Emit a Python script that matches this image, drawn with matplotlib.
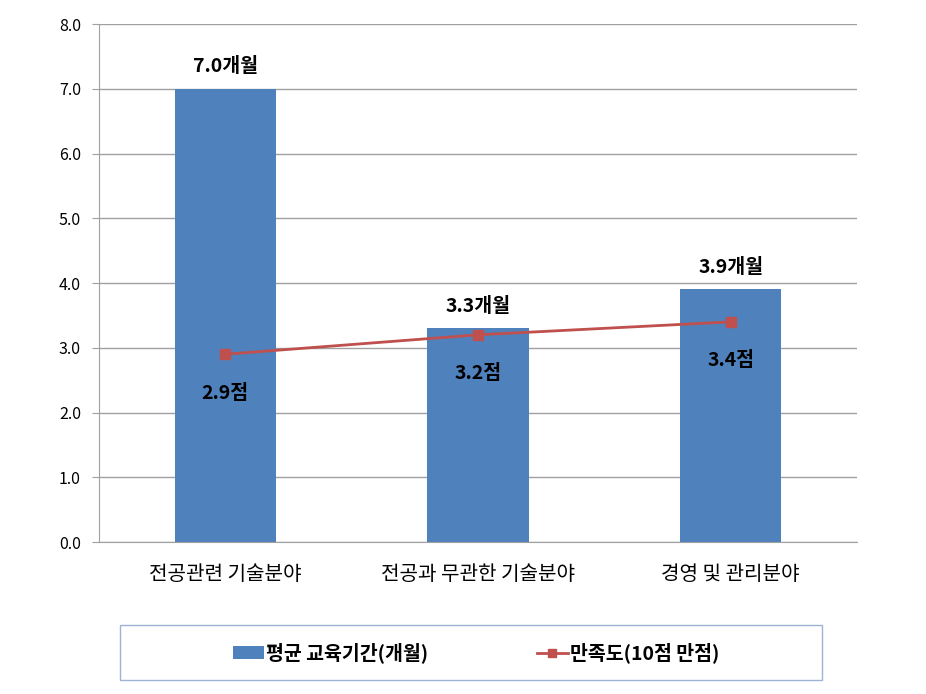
import matplotlib
matplotlib.use("Agg")
import matplotlib.pyplot as plt
from matplotlib.lines import Line2D
from matplotlib.patches import Patch, Rectangle

plt.rcParams['font.family'] = ['Noto Sans CJK KR', 'DejaVu Sans']

categories = ["전공관련 기술분야", "전공과 무관한 기술분야", "경영 및 관리분야"]
months = [7.0, 3.3, 3.9]
satisfaction = [2.9, 3.2, 3.4]
yticks = [0.0, 1.0, 2.0, 3.0, 4.0, 5.0, 6.0, 7.0, 8.0]

fig = plt.figure(figsize=(9.26, 6.94), dpi=100)
ax = fig.add_axes([0.1069, 0.219, 0.8186, 0.7464])

x = list(range(len(categories)))
ax.bar(x, months, width=0.4, color='#4F81BD', zorder=2)
ax.plot(x, satisfaction, color='#C0504D', linewidth=2, marker='s', markersize=7, zorder=3)

for xi, v in zip(x, months):
    ax.annotate(f"{v:.1f}개월", (xi, v), xytext=(0, 9), textcoords='offset points',
                ha='center', va='bottom', fontsize=14, fontweight='bold')
for xi, v in zip(x, satisfaction):
    ax.annotate(f"{v:.1f}점", (xi, v), xytext=(0, -28), textcoords='offset points',
                ha='center', va='center', fontsize=14, fontweight='bold')

ax.set_xlim(-0.5, 2.5)
ax.set_ylim(0, 8)
ax.set_yticks(yticks)
ax.set_yticklabels([f"{t:.1f}" for t in yticks], fontsize=11.5)
ax.set_xticks(x)
ax.set_xticklabels(categories, fontsize=14.5)
ax.tick_params(axis='x', length=0, pad=16)
ax.tick_params(axis='y', length=5, color='#A0A0A0', pad=8)
ax.grid(axis='y', color='#A0A0A0', linewidth=1, zorder=0)
for s in ['top', 'right']:
    ax.spines[s].set_visible(False)
ax.spines['left'].set_color('#A0A0A0')
ax.spines['bottom'].set_color('#A0A0A0')

fig.add_artist(Rectangle((120 / 926, 1 - 680 / 694), 702 / 926, 55 / 694,
                         transform=fig.transFigure, fill=False, edgecolor='#9DB3D6', linewidth=1))

handles = [Patch(facecolor='#4F81BD', label='평균 교육기간(개월)'),
           Line2D([0], [0], color='#C0504D', linewidth=2, marker='s', markersize=6, label='만족도(10점 만점)')]
leg = fig.legend(handles=handles, loc='center', bbox_to_anchor=(0.514, 1 - 653 / 694),
                 ncol=2, frameon=False, prop={'weight': 'bold', 'size': 14},
                 columnspacing=5.6, handlelength=1.6, handletextpad=0.1, handleheight=0.6)

fig.savefig('out.png', dpi=100)
